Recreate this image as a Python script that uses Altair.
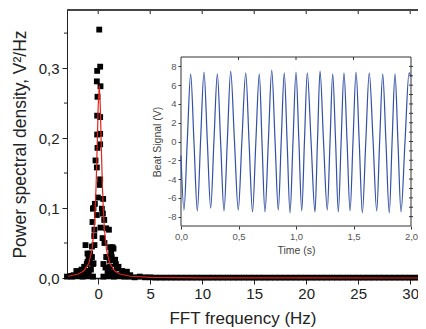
import altair as alt
import pandas as pd

# ---------------- data ----------------
peak_f = [0.10, 0.19, -0.10, -0.13, 0.22, -0.07, -0.10, 0.19, -0.10, 0.19, 0.19, -0.07,
          -0.26, -0.13, 0.19, 0.16, -0.03, -0.32, 0.48, -0.51, 0.35, 0.45, -0.55, 0.22,
          1.03, -0.38, -1.22, 0.42, -0.36, 1.15, 1.38, 1.25, -1.03, 0.77, 1.57, -0.60,
          -1.35, -0.45, 1.15, 1.95, -1.73, 2.43, -2.37, 3.08, 1.47, -0.77, -1.03, 1.63,
          1.80, 2.76, -0.45, -0.13, 0.58, -0.36, 0.77, -0.93,
          -0.50, -0.70, -0.90, -1.20, -1.50, -2.00, -2.60, 0.50, 0.70, 0.90, 1.20, 1.50,
          2.10, 2.60, -0.60, 0.60, -0.80, 0.90, 1.10, -1.10, 1.30, 1.70, -1.60, 2.30, -2.10]
peak_p = [0.355, 0.302, 0.296, 0.281, 0.274, 0.259, 0.232, 0.230, 0.205, 0.206, 0.191, 0.186,
          0.168, 0.158, 0.141, 0.133, 0.115, 0.106, 0.113, 0.099, 0.099, 0.092, 0.080, 0.072,
          0.069, 0.060, 0.047, 0.057, 0.047, 0.044, 0.044, 0.038, 0.035, 0.030, 0.026, 0.030,
          0.016, 0.021, 0.016, 0.016, 0.009, 0.007, 0.004, 0.004, 0.042, 0.035, 0.023, 0.026,
          0.014, 0.009, 0.100, 0.090, 0.083, 0.069, 0.071, 0.030,
          0.020, 0.012, 0.010, 0.008, 0.006, 0.005, 0.003, 0.020, 0.015, 0.010, 0.008, 0.007,
          0.005, 0.004, 0.045, 0.050, 0.025, 0.030, 0.025, 0.020, 0.030, 0.020, 0.012, 0.010, 0.010]

base_f = [-3.0, -2.5, -2.0, -1.5, -1.0, -0.5, 0.5, 1.0, 1.5, 2.0, 2.5, 3.0, 3.5, 4.0, 4.5, 5.0,
          5.5, 6.0, 6.5, 7.0, 7.5, 8.0, 8.5, 9.0, 9.5, 10.0, 10.5, 11.0, 11.5, 12.0, 12.5, 13.0,
          13.5, 14.0, 14.5, 15.0, 15.5, 16.0, 16.5, 17.0, 17.5, 18.0, 18.5, 19.0, 19.5, 20.0,
          20.5, 21.0, 21.5, 22.0, 22.5, 23.0, 23.5, 24.0, 24.5, 25.0, 25.5, 26.0, 26.5, 27.0,
          27.5, 28.0, 28.5, 29.0, 29.5, 30.0, 30.5]
base_p = [0.002, 0.002, 0.003, 0.002, 0.003, 0.002, 0.002, 0.003, 0.002, 0.003, 0.002, 0.002,
          0.001, 0.002, 0.001, 0.001, 0.0005, 0.0005, 0.0005, 0.0005, 0.0005, 0.0005, 0.0005,
          0.0005, 0.0005, 0.0005, 0.0005, 0.0005, 0.0005, 0.0005, 0.0005, 0.0005, 0.0005,
          0.0005, 0.0005, 0.0005, 0.0005, 0.0005, 0.0005, 0.0005, 0.0005, 0.0005, 0.0005,
          0.0005, 0.0005, 0.0005, 0.0005, 0.0005, 0.0005, 0.0005, 0.0005, 0.0005, 0.0005,
          0.0005, 0.0005, 0.0005, 0.0005, 0.0005, 0.0005, 0.0005, 0.0005, 0.0005, 0.0005,
          0.0005, 0.0005, 0.0005, 0.0005]

fit_f = [-2.9, -1.9, -1.4, -0.9, -0.6, -0.4, -0.3, -0.2, -0.1, 0.0, 0.1, 0.2, 0.3, 0.4, 0.5,
         0.6, 0.8, 1.1, 1.6, 2.1, 3.1, 5.1, 10.0, 20.0, 30.8]
fit_p = [0.0025, 0.0057, 0.0099, 0.021, 0.040, 0.069, 0.095, 0.133, 0.186, 0.246, 0.275,
         0.246, 0.186, 0.133, 0.095, 0.069, 0.040, 0.021, 0.0099, 0.0057, 0.0025, 0.001,
         0.0003, 0.0001, 0.0]

sig_t = [0.000, 0.026, 0.055, 0.084, 0.113, 0.142, 0.171, 0.200, 0.229, 0.258, 0.287, 0.316,
         0.345, 0.374, 0.403, 0.432, 0.465, 0.498, 0.530, 0.563, 0.592, 0.622, 0.651, 0.681,
         0.705, 0.730, 0.760, 0.789, 0.818, 0.846, 0.872, 0.898, 0.923, 0.948, 0.974, 1.000,
         1.025, 1.050, 1.074, 1.098, 1.131, 1.165, 1.187, 1.209, 1.240, 1.272, 1.296, 1.319,
         1.344, 1.368, 1.393, 1.417, 1.444, 1.470, 1.496, 1.522, 1.550, 1.577, 1.607, 1.637,
         1.670, 1.702, 1.728, 1.754, 1.782, 1.811, 1.836, 1.861, 1.887, 1.913, 1.948, 1.983,
         2.000]
sig_v = [-1.5, -7.3, 0.2, 7.2, -0.1, -7.4, 0.3, 7.4, 0.0, -7.1, 0.2, 7.2,
         -0.2, -7.4, 0.1, 7.5, 0.0, -7.3, 0.2, 7.3, -0.1, -7.5, 0.0, 7.2,
         -0.3, -7.5, 0.1, 7.6, 0.0, -7.3, 0.2, 7.3, -0.1, -7.6, 0.0, 7.4,
         0.1, -7.4, 0.2, 7.3, 0.0, -7.5, 0.1, 7.5, -0.2, -7.3, 0.0, 7.2,
         0.1, -7.5, 0.2, 7.3, 0.0, -7.4, 0.1, 7.4, -0.1, -7.6, 0.0, 7.3,
         0.1, -7.4, 0.2, 7.2, 0.0, -7.6, 0.1, 7.2, -0.2, -7.5, 0.0, 7.3,
         6.9]

main_x_ticks = [0, 5, 10, 15, 20, 25, 30]
main_y_ticks = [0.0, 0.1, 0.2, 0.3]
main_y_minor = [0.05, 0.15, 0.25, 0.35]
inset_x_ticks = [0.0, 0.5, 1.0, 1.5, 2.0]
inset_x_top = [0.5, 1.0, 1.5]
inset_y_ticks = [-8, -6, -4, -2, 0, 2, 4, 6, 8]
inset_y_minor = [-8, -7, -6, -5, -4, -3, -2, -1, 0, 1, 2, 3, 4, 5, 6, 7, 8]

# ---------------- layout constants ----------------
W, H = 351, 268
FONT = "Liberation Sans"
comma1 = "replace(format(datum.value, '.1f'), '.', ',')"

xdom = [-3, 30.75]
ydom = [0, 0.383]

scatter_df = pd.DataFrame({"f": peak_f + base_f, "p": peak_p + base_p})
fit_df = pd.DataFrame({"f": fit_f, "p": fit_p})

xs = alt.Scale(domain=xdom, nice=False, zero=False)
ys = alt.Scale(domain=ydom, nice=False, zero=False)

ax_main_x = alt.Axis(orient="bottom", values=main_x_ticks, labelFontSize=15,
                     titleFontSize=17, labelFont=FONT, titleFont=FONT, labelColor="#222",
                     titleColor="#222", titleFontWeight="normal", tickSize=6,
                     tickColor="#222", domainColor="#111", domainWidth=1.5, grid=False,
                     labelPadding=2, titlePadding=9, labelFlush=False)
ax_main_y = alt.Axis(orient="left", values=main_y_ticks, labelExpr=comma1,
                     labelFontSize=15, titleFontSize=17.5, labelFont=FONT, titleFont=FONT,
                     labelColor="#222", titleColor="#222", titleFontWeight="normal",
                     tickSize=5, tickColor="#222", domainColor="#222", grid=False,
                     labelPadding=3, titlePadding=9, labelFlush=False)
XT = "FFT frequency (Hz)"
YT = "Power spectral density, V²/Hz"

scatter = alt.Chart(scatter_df).mark_square(size=34, color="black", opacity=1).encode(
    x=alt.X("f:Q", scale=xs, title=XT, axis=ax_main_x),
    y=alt.Y("p:Q", scale=ys, title=YT, axis=ax_main_y),
)

fit = alt.Chart(fit_df).mark_line(color="#e3241b", strokeWidth=1.2).encode(
    x=alt.X("f:Q", scale=xs, title=XT, axis=ax_main_x),
    y=alt.Y("p:Q", scale=ys, title=YT, axis=ax_main_y))

minor_df = pd.DataFrame({"p": main_y_minor})
minor = alt.Chart(minor_df).mark_rule(color="#222").encode(
    y=alt.Y("p:Q", scale=ys, title=YT, axis=ax_main_y), x=alt.value(-3), x2=alt.value(0))

top_df = pd.DataFrame({"f": main_x_ticks})
top_ticks = alt.Chart(top_df).mark_rule(color="#222").encode(
    x=alt.X("f:Q", scale=xs, title=XT, axis=ax_main_x), y=alt.value(0), y2=alt.value(4))
top_line = alt.Chart(top_df).mark_rule(color="#444", strokeWidth=1.2).encode(
    x=alt.value(0), x2=alt.value(W), y=alt.value(0))

main = alt.layer(scatter, fit, minor, top_ticks, top_line)

# ---------------- inset ----------------
IX0, IX1 = 114, 344
IY0, IY1 = 216, 47
txs = alt.Scale(domain=[0, 2], range=[IX0, IX1], nice=False, zero=False)
tys = alt.Scale(domain=[-9, 9], range=[IY0, IY1], nice=False, zero=False)

ax_in_x = alt.Axis(orient="bottom", values=inset_x_ticks, labelExpr=comma1,
                   offset=-(H - IY0), labelFontSize=9.5, titleFontSize=10.5,
                   labelFont=FONT, titleFont=FONT, labelColor="#555",
                   titleColor="#444", titleFontWeight="normal", tickSize=3,
                   tickColor="#333", domain=False, grid=False, labelPadding=2,
                   titlePadding=5, labelFlush=False, labelOverlap=False)
ax_in_y = alt.Axis(orient="left", values=inset_y_ticks, labelExpr="'' + datum.value",
                   offset=-IX0, labelFontSize=9.5, titleFontSize=10.5, labelFont=FONT,
                   titleFont=FONT, labelColor="#555", titleColor="#444",
                   titleFontWeight="normal", tickSize=3, tickColor="#333",
                   domain=False, grid=False, labelPadding=2, titlePadding=5,
                   labelFlush=False, labelOverlap=False)
IXT = "Time (s)"
IYT = "Beat Signal (V)"

frame_df = pd.DataFrame({"t0": [0.0], "t1": [2.0], "v0": [-9.0], "v1": [9.0]})
frame = alt.Chart(frame_df).mark_rect(fill="white", stroke="#333", strokeWidth=1).encode(
    x=alt.X("t0:Q", scale=txs, title=IXT, axis=ax_in_x),
    x2="t1:Q",
    y=alt.Y("v0:Q", scale=tys, title=IYT, axis=ax_in_y),
    y2="v1:Q",
)

sig_df = pd.DataFrame({"t": sig_t, "v": sig_v})
signal = alt.Chart(sig_df).mark_line(color="#3350a5", strokeWidth=1.2,
                                     interpolate="monotone").encode(
    x=alt.X("t:Q", scale=txs, title=IXT, axis=ax_in_x),
    y=alt.Y("v:Q", scale=tys, title=IYT, axis=ax_in_y))

itop_df = pd.DataFrame({"t": inset_x_top})
itop = alt.Chart(itop_df).mark_rule(color="#333").encode(
    x=alt.X("t:Q", scale=txs, title=IXT, axis=ax_in_x), y=alt.value(IY1), y2=alt.value(IY1 + 3))

iright_df = pd.DataFrame({"v": inset_y_minor})
iright = alt.Chart(iright_df).mark_rule(color="#333").encode(
    y=alt.Y("v:Q", scale=tys, title=IYT, axis=ax_in_y), x=alt.value(IX1 - 2), x2=alt.value(IX1 + 2))

inset = alt.layer(frame, signal, itop, iright)

chart = alt.layer(main, inset).resolve_scale(x="independent", y="independent").properties(
    width=W, height=H,
    autosize=alt.AutoSizeParams(type="none"),
    padding={"left": 59, "top": 2, "right": 0, "bottom": 50},
).configure_view(stroke=None)

chart.save("out.html", embed_options={"renderer": "svg", "actions": False})
